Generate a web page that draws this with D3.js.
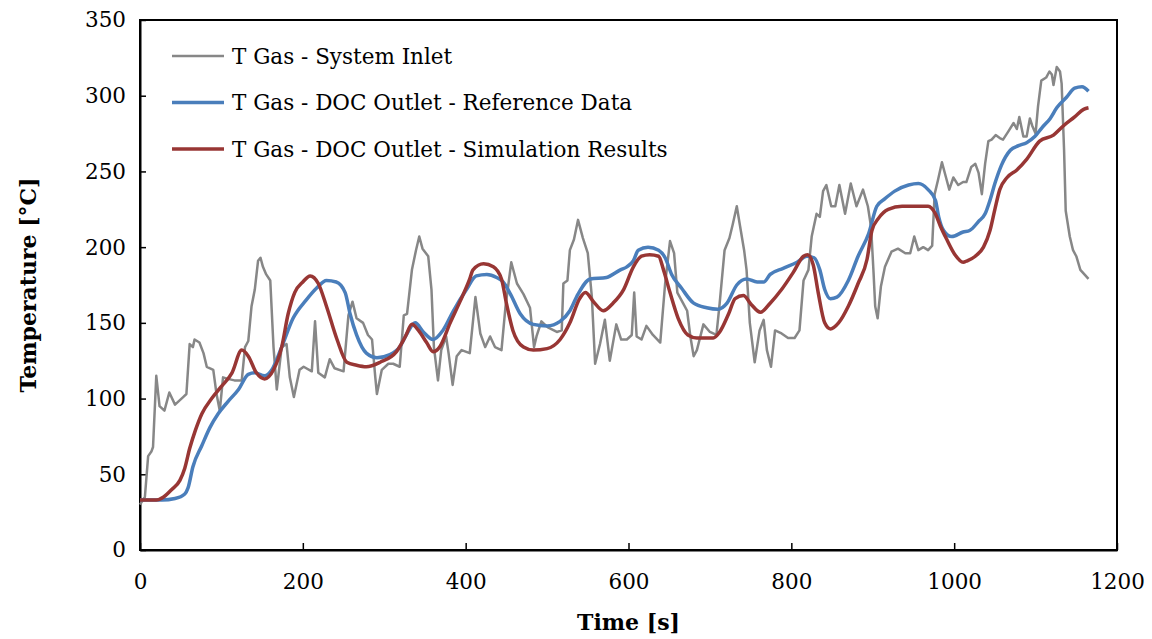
<!DOCTYPE html>
<html>
<head>
<meta charset="utf-8">
<script src="https://cdn.jsdelivr.net/npm/d3@7"></script>
<style>
  body { margin: 0; background: #fff; }
  text { font-family: "DejaVu Serif", serif; }
</style>
</head>
<body>
<svg width="1152" height="639"></svg>
<script>
// T Gas - System Inlet  [time s, temp °C]
var inletData = [
  [0,30],[6,35],[10,62],[14,65],[16,68],[20,115],[24,95],[30,92],[36,104],[43,96],
  [53,101],[57,103],[61,136],[65,134],[67,139],[73,137],[78,130],[82,121],[90,119],[94,103],
  [98,92],[102,114],[108,113],[116,112],[125,112],[129,134],[133,138],[137,161],[141,172],[145,191],
  [148,193],[151,187],[155,182],[160,178],[164,134],[168,106],[174,134],[180,136],[184,114],[189,101],
  [196,119],[201,121],[211,118],[215,151],[219,117],[227,114],[233,126],[239,120],[250,118],[256,155],
  [261,164],[266,153],[274,150],[280,142],[285,139],[289,114],[291,103],[297,119],[305,123],[311,123],
  [315,122],[319,121],[324,155],[328,156],[334,185],[339,198],[343,207],[347,199],[354,194],[358,172],
  [361,134],[366,112],[370,132],[376,141],[379,130],[384,109],[389,128],[395,132],[405,130],[412,167],
  [418,143],[424,134],[430,141],[436,134],[444,132],[449,161],[456,190],[463,176],[471,169],[479,160],
  [484,134],[487,141],[493,151],[501,147],[512,144],[518,145],[520,176],[525,178],[528,198],[533,205],
  [538,218],[544,206],[550,196],[555,167],[559,123],[565,136],[571,152],[577,125],[585,149],[591,139],
  [598,139],[604,142],[607,170],[610,141],[616,139],[622,148],[630,142],[639,137],[645,176],[651,204],
  [656,196],[660,170],[667,163],[672,158],[676,141],[680,128],[684,132],[692,149],[700,144],[708,142],
  [712,163],[718,198],[724,206],[728,215],[733,227],[737,214],[742,198],[745,185],[749,150],[755,124],
  [761,145],[766,152],[770,132],[775,121],[780,145],[788,143],[796,140],[804,140],[810,145],[815,178],
  [821,185],[825,207],[831,222],[835,220],[839,237],[843,241],[849,227],[854,227],[859,241],[866,222],
  [873,242],[880,227],[888,238],[894,227],[898,213],[901,183],[903,161],[906,153],[910,174],[915,187],
  [923,197],[931,199],[940,196],[946,196],[951,207],[956,198],[962,200],[968,198],[973,201],[976,235],
  [980,244],[985,256],[990,246],[994,238],[999,246],[1005,241],[1011,243],[1015,243],[1021,253],[1026,255],
  [1030,249],[1034,235],[1038,255],[1042,270],[1046,271],[1051,274],[1056,272],[1060,271],[1066,276],[1073,282],
  [1077,278],[1080,286],[1085,273],[1089,273],[1093,285],[1096,280],[1100,275],[1103,293],[1107,310],[1113,312],
  [1117,316],[1120,314],[1122,307],[1126,319],[1130,316],[1132,308],[1135,264],[1137,224],[1142,207],[1146,198],
  [1150,194],[1155,185],[1165,179]
];

// T Gas - DOC Outlet - Reference Data
var referenceData = [
  [0,33],[27,33],[43,34],[55,37],[59,41],[65,55],[76,69],[86,81],[96,90],[108,98],
  [121,106],[133,116],[141,117],[153,115],[162,119],[174,134],[188,153],[204,165],[217,173],[229,178],
  [241,177],[252,170],[258,156],[266,142],[278,130],[291,127],[307,129],[319,134],[328,143],[338,150],
  [348,144],[360,139],[372,145],[385,158],[401,172],[413,181],[426,182],[438,180],[446,177],[455,169],
  [467,156],[483,149],[500,148],[516,151],[528,158],[538,169],[553,179],[573,180],[590,185],[598,187],
  [606,191],[612,198],[624,200],[637,198],[645,193],[653,182],[665,173],[680,163],[696,160],[710,159],
  [721,163],[733,175],[745,179],[758,177],[766,177],[774,182],[790,186],[807,190],[819,194],[828,193],
  [835,185],[841,172],[848,166],[856,167],[870,178],[882,194],[895,209],[905,227],[915,232],[927,237],
  [944,241],[956,242],[968,238],[977,231],[981,220],[987,211],[997,207],[1011,210],[1019,211],[1030,217],
  [1038,222],[1044,231],[1050,242],[1058,254],[1069,264],[1079,267],[1089,269],[1099,273],[1108,279],[1118,285],
  [1126,292],[1138,299],[1148,305],[1157,306],[1165,303]
];

// T Gas - DOC Outlet - Simulation Results
var simulationData = [
  [0,33],[20,33],[29,35],[39,40],[49,46],[55,54],[61,67],[68,79],[76,90],[88,100],
  [100,108],[113,117],[125,132],[133,128],[143,117],[153,113],[164,119],[174,134],[182,156],[190,170],
  [200,177],[209,181],[219,176],[229,161],[242,139],[254,124],[266,122],[278,121],[295,124],[315,131],
  [326,141],[334,149],[342,145],[352,137],[360,131],[368,134],[381,150],[393,164],[405,179],[409,185],
  [422,189],[434,187],[444,179],[450,163],[458,145],[471,134],[483,132],[500,133],[516,139],[528,150],
  [540,166],[547,170],[557,164],[569,158],[581,163],[594,172],[606,187],[616,194],[626,195],[637,194],
  [643,185],[651,170],[661,153],[673,142],[684,140],[704,140],[712,144],[723,156],[731,166],[741,168],
  [751,162],[762,157],[774,163],[788,172],[802,183],[815,194],[820,195],[827,188],[833,170],[841,150],
  [848,146],[858,150],[870,161],[882,176],[893,192],[899,211],[907,219],[919,225],[936,227],[952,227],
  [968,227],[977,222],[983,214],[991,205],[1001,195],[1011,190],[1016,191],[1026,194],[1036,200],[1044,211],
  [1050,225],[1056,238],[1065,246],[1077,251],[1089,258],[1105,270],[1122,274],[1134,280],[1148,286],[1159,291],
  [1165,292]
];

var seriesNames = ["T Gas - System Inlet", "T Gas - DOC Outlet - Reference Data", "T Gas - DOC Outlet - Simulation Results"];
var seriesColors = ["#878787", "#4a7ebb", "#983634"];

var xTicks = [0, 200, 400, 600, 800, 1000, 1200];
var yTicks = [0, 50, 100, 150, 200, 250, 300, 350];

var svg = d3.select("svg"),
    margin = {top: 20, right: 35, bottom: 89, left: 140},
    width = +svg.attr("width") - margin.left - margin.right,
    height = +svg.attr("height") - margin.top - margin.bottom;

var x = d3.scaleLinear().domain([0, 1200]).range([margin.left, margin.left + width]);
var y = d3.scaleLinear().domain([0, 350]).range([margin.top + height, margin.top]);

// plot frame
svg.append("rect")
    .attr("x", margin.left).attr("y", margin.top)
    .attr("width", width).attr("height", height)
    .attr("fill", "none").attr("stroke", "#000").attr("stroke-width", 2);

// axes (ticks point inward)
var xAxis = svg.append("g")
    .attr("transform", "translate(0," + (margin.top + height) + ")")
    .call(d3.axisBottom(x).tickValues(xTicks).tickFormat(d3.format("d"))
      .tickSizeInner(-7).tickSizeOuter(0).tickPadding(24));
var yAxis = svg.append("g")
    .attr("transform", "translate(" + margin.left + ",0)")
    .call(d3.axisLeft(y).tickValues(yTicks).tickSizeInner(-6).tickSizeOuter(0).tickPadding(14));

[xAxis, yAxis].forEach(function(a) {
  a.select(".domain").attr("stroke", "#000").attr("stroke-width", 2);
  a.selectAll(".tick line").attr("stroke", "#000").attr("stroke-width", 1.5);
  a.selectAll(".tick text").attr("font-family", "DejaVu Serif").attr("font-size", 21.5).attr("fill", "#000");
});

var line = d3.line()
    .x(function(d) { return x(d[0]); })
    .y(function(d) { return y(d[1]); });

var smooth = d3.line()
    .curve(d3.curveMonotoneX)
    .x(function(d) { return x(d[0]); })
    .y(function(d) { return y(d[1]); });

svg.append("path").datum(inletData)
    .attr("fill", "none").attr("stroke", seriesColors[0]).attr("stroke-width", 2.5)
    .attr("stroke-linejoin", "round").attr("d", line);
svg.append("path").datum(referenceData)
    .attr("fill", "none").attr("stroke", seriesColors[1]).attr("stroke-width", 3.5)
    .attr("stroke-linejoin", "round").attr("d", smooth);
svg.append("path").datum(simulationData)
    .attr("fill", "none").attr("stroke", seriesColors[2]).attr("stroke-width", 3.5)
    .attr("stroke-linejoin", "round").attr("d", smooth);

// legend
var legend = svg.append("g").attr("transform", "translate(172,56)");
seriesNames.forEach(function(name, i) {
  var g = legend.append("g").attr("transform", "translate(0," + (i * 46.5) + ")");
  g.append("line").attr("x1", 0).attr("x2", 52).attr("y1", 0).attr("y2", 0)
      .attr("stroke", seriesColors[i]).attr("stroke-width", i === 0 ? 2.5 : 3.5);
  g.append("text").attr("x", 60).attr("y", 7.5).attr("font-size", 21.5).text(name);
});

// axis titles
svg.append("text")
    .attr("x", x(600)).attr("y", 630)
    .attr("text-anchor", "middle").attr("font-weight", "bold").attr("font-size", 22)
    .text("Time [s]");
svg.append("text")
    .attr("transform", "translate(36," + (margin.top + height / 2) + ") rotate(-90)")
    .attr("text-anchor", "middle").attr("font-weight", "bold").attr("font-size", 22)
    .text("Temperature [°C]");
</script>
</body>
</html>
